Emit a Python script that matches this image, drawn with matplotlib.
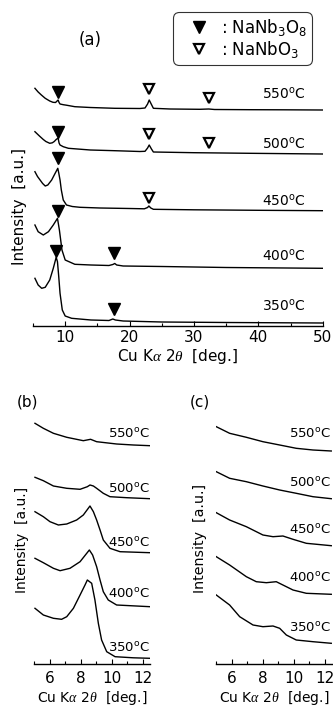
import matplotlib
matplotlib.use("Agg")
import matplotlib.pyplot as plt
from matplotlib.ticker import MultipleLocator

plt.rcParams['font.family'] = ['DejaVu Sans']
plt.rcParams['mathtext.fontset'] = 'custom'
plt.rcParams['mathtext.rm'] = 'DejaVu Sans'
plt.rcParams['mathtext.it'] = 'Liberation Serif:italic'
plt.rcParams['mathtext.default'] = 'regular'

temps = ["550", "500", "450", "400", "350"]

# ---- (a) wide-range XRD patterns, stacked intensity [a.u.] ----
a550_tt = [5.3, 5.8, 6.3, 6.9, 7.6, 8.1, 8.5, 8.9, 9.05, 9.2, 9.7, 10.2, 11.5, 13.9, 17.7,
           21.6, 22.4, 22.8, 23.05, 23.4, 23.7, 26.3, 30.9, 32.3, 33.2, 38.7, 44.0, 50.0]
a550_i = [237.7, 234, 231, 227.7, 225, 223.7, 223.5, 226, 223.5, 222, 221.3, 220.8, 219.3, 218.5, 217.7,
          217.5, 218, 222, 226, 221.5, 217.7, 217, 216.7, 217, 216.5, 216.3, 216.2, 216]

a500_tt = [5.3, 6.0, 6.6, 7.0, 7.6, 8.0, 8.3, 8.6, 8.9, 9.05, 9.2, 9.7, 10.5, 13.9, 17.7,
           21.6, 22.4, 22.8, 23.05, 23.4, 23.7, 30.0, 38.7, 50.0]
a500_i = [194.3, 190, 186.5, 184.5, 182.7, 183.2, 184.5, 186.5, 188, 183, 181, 179.3, 177.7, 176, 175.3,
          174.5, 174.7, 178, 181, 177, 174, 173.3, 172.7, 172]

a450_tt = [5.3, 5.7, 6.1, 6.5, 6.9, 7.3, 7.9, 8.3, 8.85, 9.0, 9.2, 9.4, 9.7, 10.2, 11.1, 12.3,
           15.4, 20.0, 22.3, 22.8, 23.0, 23.3, 23.7, 30.0, 40.0, 50.0]
a450_i = [154.3, 149.5, 146, 142.5, 140, 141, 146, 151, 157.7, 153, 146, 136, 126, 121, 119.5, 118.7,
          118, 117.5, 117.2, 118.5, 120, 118, 116.7, 116.2, 115.7, 115.3]

a400_tt = [5.3, 5.8, 6.6, 7.4, 8.15, 8.8, 9.1, 9.5, 10.0, 11.5, 14.0, 16.8, 17.4, 17.7, 18.0,
           19.0, 25.0, 35.0, 50.0]
a400_i = [101, 94.3, 91, 94.3, 101, 107.7, 96, 76, 66, 61.7, 61, 60.5, 61.5, 62.5, 61,
          60, 59.5, 58.5, 57.7]

a350_tt = [5.3, 5.8, 6.35, 6.9, 7.6, 8.15, 8.6, 8.8, 9.0, 9.2, 9.55, 10.0, 11.0, 14.0, 16.8,
           17.4, 17.8, 19.0, 25.0, 35.0, 50.0]
a350_i = [47.7, 41, 37.7, 38.7, 46, 57.7, 68.7, 64.3, 49.3, 32.7, 16, 10, 7.7, 6, 5.5,
          7, 6, 5, 4, 3.5, 3]

# phase markers in (a)
nb3o8_tt = [8.93, 8.93, 8.93, 8.81, 17.58, 8.54, 17.58]
nb3o8_i = [234, 194, 168, 115.5, 73.5, 75, 17]
nbo3_tt = [23.02, 32.34, 23.02, 32.34, 23.02]
nbo3_i = [236.8, 228, 192, 183, 128.5]

# temperature label heights (baseline) in (a)
a_label_i = [227, 177.7, 120.3, 65, 15]

# ---- (b) low-angle patterns ----
b550_tt = [5.05, 5.59, 6.24, 7.1, 8.17, 8.64, 9.03, 10.32, 11.4, 12.47]
b550_i = [240.7, 235.7, 230.7, 226.7, 223.3, 224.7, 222.3, 220, 219, 218.3]

b500_tt = [5.05, 5.59, 6.24, 7.1, 7.96, 8.43, 8.6, 8.82, 9.03, 9.46, 9.89, 10.97, 12.47]
b500_i = [186.7, 183.3, 178, 175.7, 174.7, 177.3, 179, 178, 175.7, 170.7, 167.3, 166.3, 165.3]

b450_tt = [5.05, 5.59, 6.02, 6.56, 7.1, 7.74, 8.17, 8.49, 8.6, 8.82, 9.03, 9.25, 9.46, 9.89, 10.54, 12.47]
b450_i = [152.3, 147.3, 142.3, 139, 140, 144, 149, 155.7, 158, 152.3, 144, 134, 124, 115.7, 112.3, 111.3]

b400_tt = [5.05, 5.59, 6.24, 6.67, 7.31, 7.96, 8.39, 8.56, 8.77, 9.03, 9.25, 9.46, 9.78, 10.32, 12.47]
b400_i = [105.7, 101.3, 95.7, 93.3, 95.7, 102.3, 110.7, 114, 109, 97.3, 84, 72.3, 64, 59, 57.3]

b350_tt = [5.05, 5.59, 6.24, 6.77, 7.1, 7.53, 7.96, 8.28, 8.43, 8.71, 8.92, 9.14, 9.35, 9.68,
           10.22, 11.4, 12.47]
b350_i = [55.7, 49, 45.7, 44.7, 47.3, 55.7, 69, 79, 84, 80.7, 64, 40.7, 24, 12.3,
          7.3, 6.2, 5.7]

b_label_i = [225.7, 170.7, 117.3, 65.7, 12.3]

# ---- (c) low-angle patterns ----
c550_tt = [5.0, 5.86, 6.94, 8.01, 9.09, 10.16, 11.24, 12.42]
c550_i = [237.3, 230.7, 226.7, 222.3, 219, 215.7, 214, 213]

c500_tt = [5.0, 5.86, 6.94, 8.01, 9.09, 10.16, 11.24, 12.42]
c500_i = [192.3, 185.7, 182.3, 178, 174, 170.7, 167.3, 165.3]

c450_tt = [5.0, 5.86, 6.94, 8.01, 8.66, 9.3, 9.95, 10.81, 12.42]
c450_i = [151.3, 144, 137.3, 129, 127.3, 128, 124.7, 120.7, 118.3]

c400_tt = [5.0, 5.86, 6.94, 7.58, 8.23, 8.87, 9.3, 9.95, 10.81, 12.42]
c400_i = [107.3, 99, 87.3, 82.3, 81.3, 82.3, 79, 74, 70.7, 69.7]

c350_tt = [5.0, 5.86, 6.51, 7.37, 8.01, 8.66, 9.09, 9.52, 10.16, 11.24, 12.42]
c350_i = [69, 59, 47.3, 39, 37.3, 38, 35.7, 29, 24, 22.3, 20.7]

c_label_i = [225.7, 176.7, 130, 82.3, 32.3]

W, H = 333, 708
fig = plt.figure(figsize=(W / 100, H / 100), dpi=100)


def px_axes(x0, x1, y_top, y_axis):
    return fig.add_axes([x0 / W, 1 - y_axis / H, (x1 - x0) / W, (y_axis - y_top) / H])


def style(ax, major, minor, xlabel_size, labelpad, tickpad):
    for s in ("left", "right", "top"):
        ax.spines[s].set_visible(False)
    ax.spines["bottom"].set_linewidth(1.0)
    ax.set_yticks([])
    ax.xaxis.set_major_locator(MultipleLocator(major))
    ax.xaxis.set_minor_locator(MultipleLocator(minor))
    ax.tick_params(axis="x", which="major", direction="in", length=3.6, width=0.8,
                   labelsize=11, pad=tickpad)
    ax.tick_params(axis="x", which="minor", direction="in", length=2.2, width=0.8)
    ax.set_xlabel(r"Cu K$\mathit{\alpha}$ 2$\mathit{\theta}$  [deg.]", fontsize=xlabel_size,
                  labelpad=labelpad)


lw = 1.0
tlabels = [t + "$^{o}$C" for t in temps]

# panel (a)
ax_a = px_axes(33, 322.7, 60, 326)
ax_a.set_xlim(5, 50)
ax_a.set_ylim(0, 266)
for tt, ii in [(a550_tt, a550_i), (a500_tt, a500_i), (a450_tt, a450_i),
               (a400_tt, a400_i), (a350_tt, a350_i)]:
    ax_a.plot(tt, ii, color="black", lw=lw)
h1, = ax_a.plot(nb3o8_tt, nb3o8_i, ls="none", marker="v", ms=8, color="black")
h2, = ax_a.plot(nbo3_tt, nbo3_i, ls="none", marker="v", ms=7, mfc="white", mec="black", mew=1.6)
for lab, yi in zip(tlabels, a_label_i):
    ax_a.text(47.36, yi, lab, ha="right", va="baseline", fontsize=10)
style(ax_a, 10, 5, 11, 1, 3)
ax_a.text(-0.045, 0.451, "Intensity  [a.u.]", rotation=90, ha="center", va="center",
          fontsize=11, transform=ax_a.transAxes)
fig.text(90 / W, 1 - 40 / H, "(a)", ha="center", va="center", fontsize=12)

leg = fig.legend([h1, h2], [": NaNb$_3$O$_8$", ": NaNbO$_3$"], loc="upper left",
                 bbox_to_anchor=(173.3 / W, 1 - 11.7 / H), borderaxespad=0,
                 fontsize=12, handlelength=2.5, handletextpad=0.05, borderpad=0.3,
                 labelspacing=0.05, fancybox=True, frameon=True)
leg.get_frame().set_edgecolor("black")
leg.get_frame().set_linewidth(0.8)
leg.get_frame().set_boxstyle("round", pad=0, rounding_size=0.35)

# panel (b)
ax_b = px_axes(34.2, 150.4, 395, 664)
ax_b.set_xlim(5, 12.5)
ax_b.set_ylim(0, 269)
for tt, ii in [(b550_tt, b550_i), (b500_tt, b500_i), (b450_tt, b450_i),
               (b400_tt, b400_i), (b350_tt, b350_i)]:
    ax_b.plot(tt, ii, color="black", lw=lw)
for lab, yi in zip(tlabels, b_label_i):
    ax_b.text(12.47, yi, lab, ha="right", va="baseline", fontsize=9.5)
style(ax_b, 2, 1, 10, 2, 5)
ax_b.text((22.5 - 34.2) / 116.2, (664 - 540) / 269, "Intensity  [a.u.]", rotation=90,
          ha="center", va="center", fontsize=10, transform=ax_b.transAxes)
fig.text(27 / W, 1 - 402 / H, "(b)", ha="center", va="center", fontsize=11)

# panel (c)
ax_c = px_axes(216.3, 332.5, 395, 664)
ax_c.set_xlim(5, 12.5)
ax_c.set_ylim(0, 269)
for tt, ii in [(c550_tt, c550_i), (c500_tt, c500_i), (c450_tt, c450_i),
               (c400_tt, c400_i), (c350_tt, c350_i)]:
    ax_c.plot(tt, ii, color="black", lw=lw)
for lab, yi in zip(tlabels, c_label_i):
    ax_c.text(12.42, yi, lab, ha="right", va="baseline", fontsize=9.5)
style(ax_c, 2, 1, 10, 2, 5)
ax_c.text((200 - 216.3) / 116.2, (664 - 538) / 269, "Intensity  [a.u.]", rotation=90,
          ha="center", va="center", fontsize=10.3, transform=ax_c.transAxes)
fig.text(200 / W, 1 - 402 / H, "(c)", ha="center", va="center", fontsize=11)

fig.savefig("out.png", dpi=100)
